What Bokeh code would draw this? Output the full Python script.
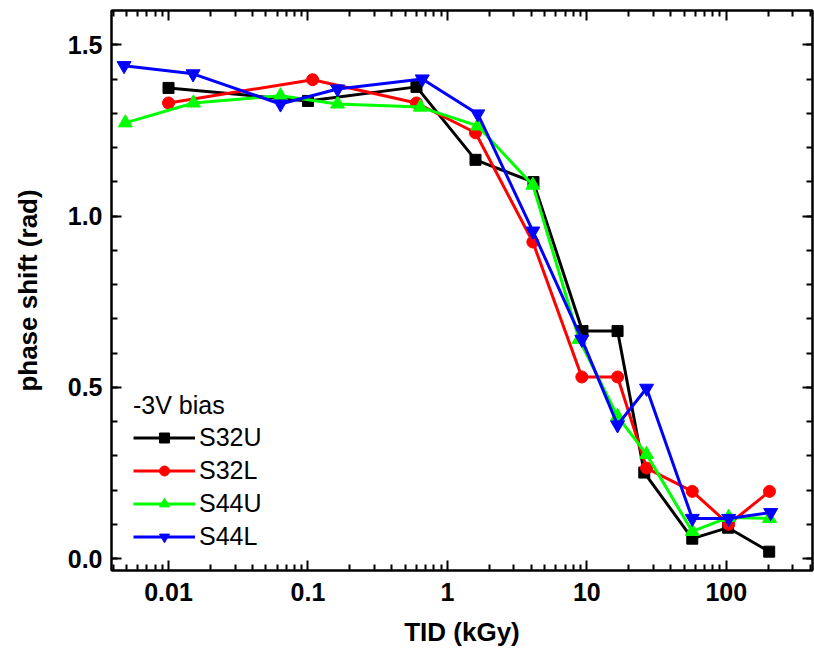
from bokeh.plotting import figure
from bokeh.models import (LinearAxis, LogAxis, FixedTicker, Legend, LegendItem,
                          NumeralTickFormatter, Range1d)
from bokeh.embed import file_html
from bokeh.resources import INLINE

# ---- data ----
s32u_x = [0.01, 0.1, 0.6, 1.59, 4.14, 9.3, 16.6, 25.8, 57, 103, 203]
s32u_y = [1.374, 1.336, 1.377, 1.164, 1.099, 0.664, 0.664, 0.251, 0.058, 0.09, 0.02]

s32l_x = [0.01, 0.108, 0.6, 1.59, 4.1, 9.2, 16.6, 26.8, 57, 104, 204]
s32l_y = [1.33, 1.398, 1.33, 1.243, 0.924, 0.53, 0.53, 0.264, 0.196, 0.10, 0.196]

s44u_x = [0.0049, 0.0151, 0.0635, 0.163, 0.64, 1.65, 4.1, 8.8, 16.6, 26.8, 57, 104, 204]
s44u_y = [1.272, 1.33, 1.351, 1.327, 1.318, 1.263, 1.09, 0.64, 0.415, 0.304, 0.079, 0.12, 0.117]

s44l_x = [0.0048, 0.015, 0.0635, 0.163, 0.66, 1.65, 4.1, 9.2, 16.6, 26.8, 57, 104, 208]
s44l_y = [1.439, 1.415, 1.327, 1.371, 1.40, 1.298, 0.956, 0.64, 0.39, 0.497, 0.117, 0.117, 0.134]

x_major = [0.01, 0.1, 1, 10, 100]
x_major_labels = ["0.01", "0.1", "1", "10", "100"]
x_minor = [m * d for d in [0.001, 0.01, 0.1, 1, 10, 100] for m in range(2, 10)]
y_major = [0.0, 0.5, 1.0, 1.5]
y_minor = [i / 10 for i in range(0, 16)]

series = [
    ("S32U", s32u_x, s32u_y, "#000000", "square", 11, 3),
    ("S32L", s32l_x, s32l_y, "#FF0000", "circle", 12, 3),
    ("S44U", s44u_x, s44u_y, "#00FF00", "triangle", 14, 3),
    ("S44L", s44l_x, s44l_y, "#0000FF", "inverted_triangle", 14, 3),
]

FONT = "Liberation Sans"

p = figure(width=814, height=649, x_axis_type="log", x_axis_location=None,
           y_axis_location=None,
           x_range=Range1d(0.0039, 415), y_range=Range1d(-0.035, 1.60),
           output_backend="svg", toolbar_location=None,
           min_border_left=111, min_border_right=2, min_border_top=10,
           min_border_bottom=5)
p.grid.visible = False
p.outline_line_color = "black"
p.outline_line_width = 2
p.background_fill_color = "white"

def style_axis(ax, labels=True):
    ax.axis_line_width = 2
    ax.axis_line_color = "black"
    ax.major_tick_in = 10
    ax.major_tick_out = 0
    ax.minor_tick_in = 6
    ax.minor_tick_out = 0
    ax.major_tick_line_width = 2
    ax.minor_tick_line_width = 2
    ax.major_label_text_font = FONT
    ax.major_label_text_font_style = "bold"
    ax.major_label_text_font_size = "25px"
    ax.major_label_text_color = "black"
    ax.axis_label_text_font = FONT
    ax.axis_label_text_font_style = "bold"
    ax.axis_label_text_font_size = "26px"
    ax.axis_label_text_color = "black"
    if not labels:
        ax.major_label_text_font_size = "0px"
        ax.major_label_text_alpha = 0

xticker = FixedTicker(ticks=x_major, minor_ticks=x_minor)
yticker = FixedTicker(ticks=y_major, minor_ticks=y_minor)

xb = LogAxis(ticker=xticker, axis_label="TID (kGy)")
xb.major_label_overrides = {t: l for t, l in zip(x_major, x_major_labels)}
style_axis(xb)
xb.major_label_standoff = 12
xb.axis_label_standoff = 13
p.add_layout(xb, "below")

xt = LogAxis(ticker=xticker)
style_axis(xt, labels=False)
xt.major_label_standoff = 0
p.add_layout(xt, "above")

yl = LinearAxis(ticker=yticker, axis_label="phase shift (rad)",
                formatter=NumeralTickFormatter(format="0.0"))
style_axis(yl)
yl.major_label_standoff = 9
yl.axis_label_standoff = 22
p.add_layout(yl, "left")

yr = LinearAxis(ticker=yticker)
style_axis(yr, labels=False)
yr.major_label_standoff = 0
p.add_layout(yr, "right")

items = []
for name, xs, ys, col, mk, sz, lw in series:
    r1 = p.line(xs, ys, line_color=col, line_width=lw)
    r2 = p.scatter(xs, ys, marker=mk, size=sz, fill_color=col, line_color=col)
    items.append(LegendItem(label=name, renderers=[r1, r2]))

legend = Legend(items=items, location=(22, 19), title="-3V bias",
                glyph_width=62, glyph_height=25, label_height=25, spacing=4,
                label_standoff=4, padding=0, margin=0,
                background_fill_alpha=0, border_line_alpha=0,
                label_text_font=FONT, label_text_font_size="25px",
                label_text_color="black",
                title_text_font=FONT, title_text_font_size="25px",
                title_text_color="black",
                title_text_font_style="normal", title_standoff=3)
p.add_layout(legend, "center")

open("out.html", "w").write(file_html(p, INLINE))
